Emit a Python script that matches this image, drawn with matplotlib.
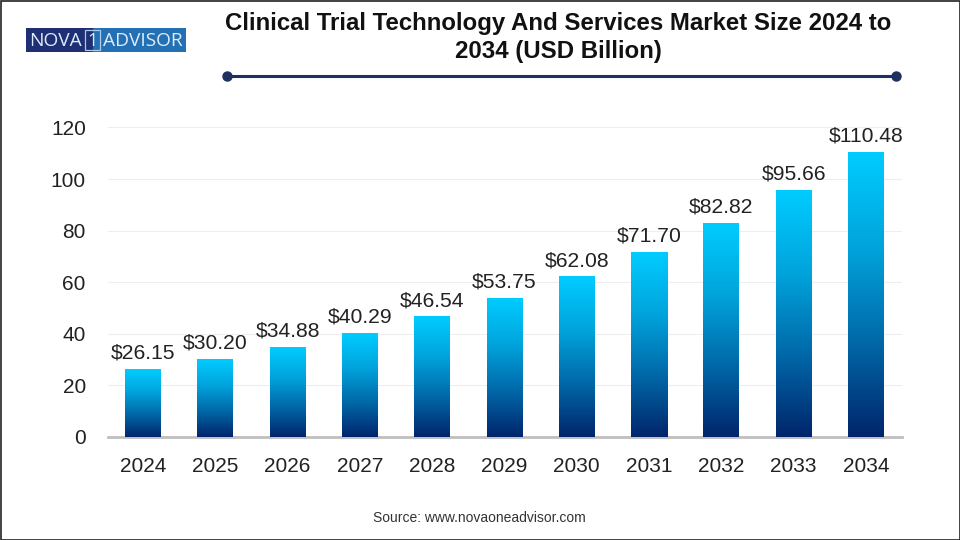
import numpy as np
import matplotlib
matplotlib.use("Agg")
import matplotlib.pyplot as plt
from matplotlib.colors import LinearSegmentedColormap
from matplotlib.patches import Rectangle

plt.rcParams['font.family'] = ['Liberation Sans', 'DejaVu Sans']

years = ["2024", "2025", "2026", "2027", "2028", "2029", "2030", "2031", "2032", "2033", "2034"]
values = [26.15, 30.20, 34.88, 40.29, 46.54, 53.75, 62.08, 71.70, 82.82, 95.66, 110.48]
y_ticks = [0, 20, 40, 60, 80, 100, 120]

W, H = 960, 540
fig = plt.figure(figsize=(W / 100, H / 100), dpi=100, facecolor="white")

# axes placed in pixel coords of the reference
left, right, top, bottom = 108, 902, 127.5, 437
ax = fig.add_axes([left / W, 1 - bottom / H, (right - left) / W, (bottom - top) / H])

x = np.arange(len(years))
step = 72.3
xmin = -(143 - left) / step
xmax = xmin + (right - left) / step
bar_w = 36 / step

cmap = LinearSegmentedColormap.from_list("barras", ["#00256b", "#0068a8", "#00a4dc", "#00ccff"])
gradient = np.linspace(0, 1, 256).reshape(-1, 1)

for xi, yi in zip(x, values):
    ax.imshow(
        gradient,
        extent=[xi - bar_w / 2, xi + bar_w / 2, 0, yi],
        origin="lower",
        aspect="auto",
        cmap=cmap,
        zorder=3,
    )
    ax.text(xi, yi + 2.6, f"${yi:.2f}", ha="center", va="bottom",
            fontsize=15.2, color="#222222", zorder=4)

ax.set_xlim(xmin, xmax)
ax.set_ylim(0, 120)
ax.set_xticks(x)
ax.set_xticklabels(years)
ax.set_yticks(y_ticks)
ax.tick_params(axis="both", length=0, labelsize=15, labelcolor="#222222")
ax.tick_params(axis="x", pad=14.5)
ax.tick_params(axis="y", pad=16)
ax.grid(axis="y", color="#eeeeee", linewidth=0.8, zorder=0)
ax.set_axisbelow(True)
for s in ["top", "right", "left"]:
    ax.spines[s].set_visible(False)
ax.spines["bottom"].set_color("#bfbfbf")
ax.spines["bottom"].set_linewidth(2)

# overlay in pixel coords for title, rule, logo and border
ov = fig.add_axes([0, 0, 1, 1], facecolor="none")
ov.set_xlim(0, W)
ov.set_ylim(H, 0)
ov.axis("off")

ov.text(558, 37.5, "Clinical Trial Technology And Services Market Size 2024 to\n2034 (USD Billion)",
        ha="center", va="center", fontsize=17.3, fontweight="bold", color="#111111", linespacing=1.32)
ov.plot([227, 896], [76, 76], color="#1f2f5f", linewidth=2.2, marker="o", markersize=6.5,
        markevery=[0, 1], zorder=3)

# logo
ov.add_patch(Rectangle((26, 28), 67, 23.5, facecolor="#1f2f73", edgecolor="none"))
ov.add_patch(Rectangle((93, 28), 93, 23.5, facecolor="#2470b4", edgecolor="none"))
ov.add_patch(Rectangle((85, 29.5), 15, 20.5, facecolor="none", edgecolor="#a9c8ea", linewidth=0.9))
ov.text(29, 40.5, "NOVA", ha="left", va="center", fontsize=13.8, color="#dcecfa", family="Open Sans")
ov.text(92.5, 40.5, "1", ha="center", va="center", fontsize=13, color="#dcecfa", family="Open Sans")
ov.text(103, 40.5, "ADVISOR", ha="left", va="center", fontsize=13.8, color="#dcecfa", family="Open Sans")

ov.text(479.5, 518, "Source: www.novaoneadvisor.com", ha="center", va="center", fontsize=10, color="#333333")

# borde da imagem
ov.add_patch(Rectangle((0.5, 0.5), W - 1, H - 1, facecolor="none", edgecolor="#222222", linewidth=1.2))

fig.savefig("out.png", dpi=100, facecolor="white")
plt.close(fig)
